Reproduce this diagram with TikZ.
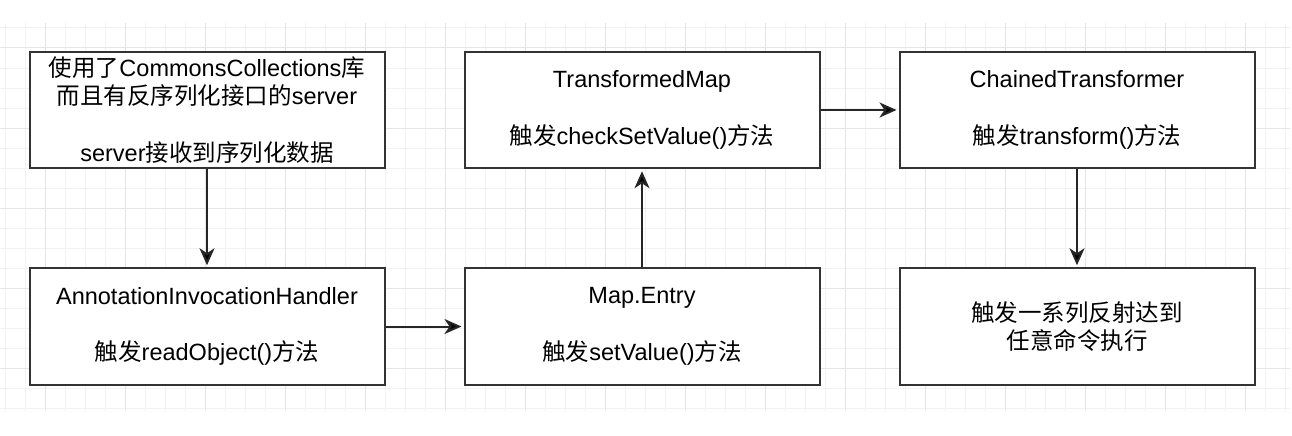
\documentclass[tikz,border=0pt]{standalone}
\usepackage{fontspec}
\setmainfont{Liberation Sans}
\newfontfamily\cjk{Noto Sans CJK SC}
\usepackage{tikz}
\usetikzlibrary{arrows.meta,positioning}

\begin{document}
\begin{tikzpicture}[>={Stealth[length=17pt,width=15pt,inset=5pt]},shorten >=2pt,auto,
  node distance=98pt and 78pt,
  box/.style={draw=black!80,line width=2pt,fill=white,minimum width=355pt,
    minimum height=116.5pt,inner sep=0pt,align=center,
    font=\fontsize{23.5pt}{28.3pt}\selectfont},
  minorgrid/.style={draw=black!5,line width=1pt},
  majorgrid/.style={draw=black!10,line width=1pt}]

  % background and grid
  \fill[white] (0,0) rectangle (1292pt,-436pt);
  \useasboundingbox (0,0) rectangle (1292pt,-436pt);
  \foreach \x in {5,25,...,1285} \draw[minorgrid] (\x pt,-23pt) -- (\x pt,-413pt);
  \foreach \y in {28,48,...,408} \draw[minorgrid] (0pt,-\y pt) -- (1292pt,-\y pt);
  \foreach \x in {45,125,...,1285} \draw[majorgrid] (\x pt,-23pt) -- (\x pt,-413pt);
  \foreach \y in {48,128,...,408} \draw[majorgrid] (0pt,-\y pt) -- (1292pt,-\y pt);

  \node[box] (q0) at (207pt,-110pt)
    {{\cjk 使用了}CommonsCollections{\cjk 库}\\{\cjk 而且有反序列化接口的}server\\[28.3pt]server{\cjk 接收到序列化数据}};
  \node[box] (q1) [below=of q0] {AnnotationInvocationHandler\\[28.3pt]{\cjk 触发}readObject(){\cjk 方法}};
  \node[box] (q2) [right=of q1] {Map.Entry\\[28.3pt]{\cjk 触发}setValue(){\cjk 方法}};
  \node[box] (q3) [above=of q2] {TransformedMap\\[28.3pt]{\cjk 触发}checkSetValue(){\cjk 方法}};
  \node[box] (q4) [right=of q3] {ChainedTransformer\\[28.3pt]{\cjk 触发}transform(){\cjk 方法}};
  \node[box] (q5) [below=of q4] {{\cjk 触发一系列反射达到}\\{\cjk 任意命令执行}};

  \path[->,draw=black!85,line width=2pt]
    (q0) edge (q1)
    (q1) edge (q2)
    (q2) edge (q3)
    (q3) edge (q4)
    (q4) edge (q5);

\end{tikzpicture}
\end{document}
